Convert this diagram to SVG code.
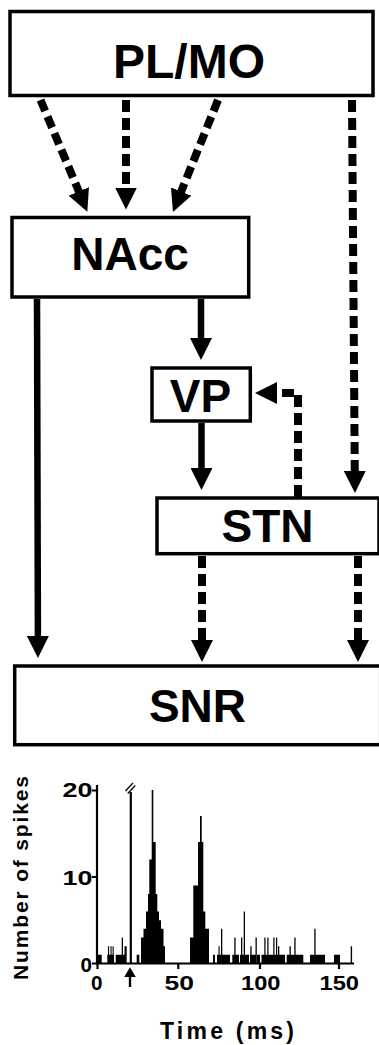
<svg xmlns="http://www.w3.org/2000/svg" width="379" height="1045" viewBox="0 0 379 1045">
  <style>
    .box { fill: #fff; stroke: #000; stroke-width: 3.5; }
    .label { font-family: "Liberation Sans", Arial, sans-serif; font-weight: bold; font-size: 46px; fill: #000; text-anchor: middle; }
    .solid { fill: none; stroke: #000; stroke-width: 6.5; }
    .dashed { fill: none; stroke: #000; stroke-width: 8; stroke-dasharray: 12 6; }
    .axis { fill: none; stroke: #000; stroke-width: 2.2; }
    .tick { font-family: "Liberation Sans", Arial, sans-serif; font-weight: bold; font-size: 20px; fill: #000; }
    .bars { fill: #000; }
  </style>
  <defs>
    <marker id="head" markerUnits="userSpaceOnUse" markerWidth="22" markerHeight="22" refX="1" refY="11" orient="auto">
      <path d="M0,0 L22,11 L0,22 Z" fill="#000"/>
    </marker>
  </defs>

  <!-- nodes -->
  <g id="plmo">
    <rect class="box" x="10" y="11.5" width="363" height="84"/>
    <text class="label" x="189" y="78.3" style="font-size:48px">PL/MO</text>
  </g>
  <g id="nacc">
    <rect class="box" x="12" y="217.5" width="236.7" height="79.5"/>
    <text class="label" x="130" y="270">NAcc</text>
  </g>
  <g id="vp">
    <rect class="box" x="152" y="368" width="98.3" height="53"/>
    <text class="label" x="200.5" y="411.7">VP</text>
  </g>
  <g id="stn">
    <rect class="box" x="157" y="498" width="222" height="55.7"/>
    <text class="label" x="267.5" y="541.5">STN</text>
  </g>
  <g id="snr">
    <rect class="box" x="14.7" y="666" width="366" height="78.7"/>
    <text class="label" x="197.5" y="721.5">SNR</text>
  </g>

  <!-- connectors -->
  <g id="connectors">
    <line class="dashed" x1="40.5" y1="100" x2="79.2" y2="192.3" marker-end="url(#head)"/>
    <line class="dashed" x1="126" y1="100" x2="126" y2="188.5" marker-end="url(#head)"/>
    <line class="dashed" x1="218" y1="100" x2="180.8" y2="192.5" marker-end="url(#head)"/>
    <line class="dashed" x1="352" y1="100" x2="354.8" y2="472" marker-end="url(#head)"/>
    <line class="solid" x1="37" y1="299" x2="37.9" y2="637" marker-end="url(#head)"/>
    <line class="solid" x1="201" y1="299" x2="201" y2="339" marker-end="url(#head)"/>
    <line class="solid" x1="201.5" y1="423" x2="201.5" y2="469" marker-end="url(#head)"/>
    <path class="dashed" d="M298,497 V393 H276" marker-end="url(#head)"/>
    <line class="dashed" x1="202" y1="556" x2="202" y2="641" marker-end="url(#head)"/>
    <line class="dashed" x1="358" y1="556" x2="358" y2="641" marker-end="url(#head)"/>
  </g>

  <!-- peri-stimulus histogram -->
  <g id="histogram">
    <!-- all bins as one path so adjoining bars fill without seams -->
    <path class="bars" d="
      M97.5,963.5 V954.8 H101.7 V963.5 Z
      M107.3,963.5 V954.8 H114 V963.5 Z
      M108,963.5 V946.2 H109.1 V963.5 Z
      M110.5,963.5 V946.2 H111.6 V963.5 Z
      M112.6,963.5 V946.2 H113.7 V963.5 Z
      M115.7,963.5 V954.8 H126.7 V963.5 Z
      M121.7,963.5 V937.5 H123 V963.5 Z
      M124.5,963.5 V946.2 H126.7 V963.5 Z
      M136.7,963.5 V954.8 H139.3 V963.5 Z

      M141,963.5 V937.5 H143.5 V963.5 Z
      M143.5,963.5 V928.8 H146 V963.5 Z
      M146,963.5 V911.5 H148 V963.5 Z
      M148,963.5 V894.1 H149.3 V963.5 Z
      M149.3,963.5 V859.5 H151.7 V963.5 Z
      M151.7,963.5 V790.1 H153.3 V963.5 Z
      M153.3,963.5 V842.1 H155.7 V963.5 Z
      M155.7,963.5 V894.1 H157.3 V963.5 Z
      M157.3,963.5 V911.5 H159 V963.5 Z
      M159,963.5 V920.2 H161 V963.5 Z
      M161,963.5 V928.8 H163.5 V963.5 Z
      M163.5,963.5 V946.2 H165 V963.5 Z

      M190,963.5 V937.5 H193.3 V963.5 Z
      M193.3,963.5 V885.5 H198 V963.5 Z
      M198,963.5 V842.1 H200 V963.5 Z
      M200,963.5 V816.1 H201.7 V963.5 Z
      M201.7,963.5 V842.1 H203.3 V963.5 Z
      M203.3,963.5 V911.5 H205.3 V963.5 Z
      M205.3,963.5 V928.8 H209 V963.5 Z

      M213,963.5 V954.8 H215 V963.5 Z
      M217,963.5 V954.8 H221 V963.5 Z
      M218.5,963.5 V946.2 H219.6 V963.5 Z
      M221,963.5 V928.8 H222.3 V963.5 Z
      M222.3,963.5 V954.8 H230 V963.5 Z
      M232.3,963.5 V954.8 H239 V963.5 Z
      M240,963.5 V954.8 H249 V963.5 Z
      M250,963.5 V954.8 H255.5 V963.5 Z
      M234.3,963.5 V937.5 H235.6 V963.5 Z
      M241,963.5 V937.5 H242.3 V963.5 Z
      M243.7,963.5 V911.5 H245 V963.5 Z
      M250.3,963.5 V946.2 H251.6 V963.5 Z
      M255.5,963.5 V937.5 H256.8 V963.5 Z
      M257,963.5 V954.8 H260 V963.5 Z
      M261.5,963.5 V954.8 H285 V963.5 Z
      M264.3,963.5 V937.5 H265.5 V963.5 Z
      M267.3,963.5 V937.5 H268.5 V963.5 Z
      M273.3,963.5 V937.5 H274.5 V963.5 Z
      M276,963.5 V937.5 H277.2 V963.5 Z
      M278,963.5 V946.2 H279.3 V963.5 Z
      M286.7,963.5 V954.8 H303.3 V963.5 Z
      M289.5,963.5 V946.2 H290.8 V963.5 Z
      M294.3,963.5 V937.5 H295.6 V963.5 Z
      M310,963.5 V954.8 H325 V963.5 Z
      M314.3,963.5 V928.8 H315.6 V963.5 Z
      M334,963.5 V954.8 H340 V963.5 Z
      M350.7,963.5 V946.2 H352.1 V963.5 Z"/>

    <!-- stimulus artefact with axis break -->
    <line x1="130.8" y1="792" x2="130.8" y2="963.5" stroke="#000" stroke-width="2.2"/>
    <line x1="125.5" y1="791" x2="133" y2="783" stroke="#000" stroke-width="1.3"/>
    <line x1="127.7" y1="793.5" x2="135.2" y2="785.5" stroke="#000" stroke-width="1.3"/>

    <!-- axes and ticks -->
    <path class="axis" d="M97,785 V963.5 H354"/>
    <path class="axis" d="M92,790.5 H97 M92,877 H97 M92,963.5 H97"/>
    <path class="axis" d="M97.5,963.5 V969 M178.3,963.5 V969 M260,963.5 V969 M339,963.5 V969"/>

    <!-- stimulus marker -->
    <path d="M130,967.3 L135.8,977 L124.2,977 Z" fill="#000"/>
    <line x1="130" y1="976" x2="130" y2="987" stroke="#000" stroke-width="2.4"/>

    <text class="tick" x="62.5" y="797" textLength="30" lengthAdjust="spacingAndGlyphs">20</text>
    <text class="tick" x="62.5" y="884.5" textLength="30" lengthAdjust="spacingAndGlyphs">10</text>
    <text class="tick" x="80.5" y="971.5" textLength="11.5" lengthAdjust="spacingAndGlyphs">0</text>

    <text class="tick" x="91" y="990" style="font-size:21px" textLength="11.5" lengthAdjust="spacingAndGlyphs">0</text>
    <text class="tick" x="164.5" y="990" style="font-size:21px" textLength="29.5" lengthAdjust="spacingAndGlyphs">50</text>
    <text class="tick" x="241" y="990" style="font-size:21px" textLength="39.5" lengthAdjust="spacingAndGlyphs">100</text>
    <text class="tick" x="319.5" y="990" style="font-size:21px" textLength="39.5" lengthAdjust="spacingAndGlyphs">150</text>

    <text class="tick" x="160" y="1039" style="font-size:23px" textLength="134" lengthAdjust="spacing">Time (ms)</text>
    <text class="tick" x="28" y="980" style="font-size:21px" textLength="204" lengthAdjust="spacing" transform="rotate(-90 28 980)">Number of spikes</text>
  </g>
</svg>
